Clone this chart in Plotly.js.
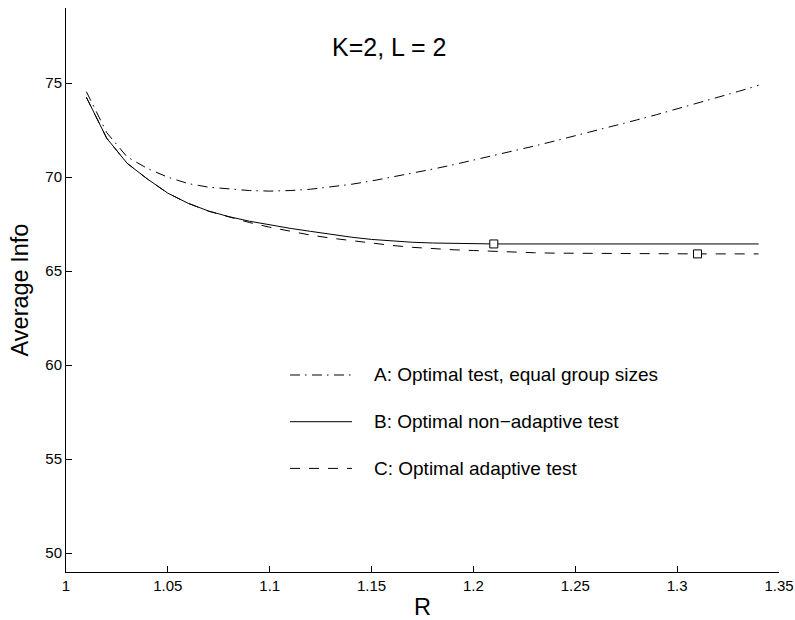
<!DOCTYPE html>
<html>
<head>
<meta charset="utf-8">
<script src="https://cdn.plot.ly/plotly-3.0.1.min.js"></script>
<style>
  html, body { margin: 0; padding: 0; background: #fff; }
  #chart { width: 795px; height: 620px; }
</style>
</head>
<body>
<div id="chart"></div>
<script>
// ---- data ----
const R = [1.01, 1.02, 1.03, 1.04, 1.05, 1.06, 1.07, 1.08, 1.09, 1.10,
           1.11, 1.12, 1.13, 1.14, 1.15, 1.16, 1.17, 1.18, 1.19, 1.20,
           1.21, 1.22, 1.23, 1.24, 1.25, 1.26, 1.27, 1.28, 1.29, 1.30,
           1.31, 1.32, 1.33, 1.34];

// A: Optimal test, equal group sizes
const infoA = [74.55, 72.37, 71.08, 70.46, 70.00, 69.66, 69.47, 69.37, 69.29, 69.26,
               69.29, 69.36, 69.48, 69.62, 69.80, 70.00, 70.21, 70.43, 70.66, 70.90,
               71.14, 71.40, 71.66, 71.93, 72.20, 72.47, 72.75, 73.04, 73.33, 73.63,
               73.93, 74.24, 74.56, 74.89];

// B: Optimal non-adaptive test
const infoB = [74.25, 72.07, 70.74, 69.90, 69.15, 68.61, 68.20, 67.90, 67.66, 67.45,
               67.28, 67.12, 66.95, 66.81, 66.69, 66.60, 66.54, 66.50, 66.47, 66.46,
               66.45, 66.45, 66.45, 66.45, 66.45, 66.45, 66.45, 66.45, 66.45, 66.45,
               66.45, 66.45, 66.45, 66.45];

// C: Optimal adaptive test
const infoC = [74.25, 72.07, 70.74, 69.90, 69.15, 68.61, 68.19, 67.87, 67.59, 67.34,
               67.11, 66.92, 66.76, 66.62, 66.49, 66.37, 66.27, 66.20, 66.14, 66.10,
               66.05, 66.01, 65.98, 65.96, 65.95, 65.94, 65.935, 65.93, 65.925, 65.92,
               65.92, 65.92, 65.92, 65.92];

// optimum markers (B and C)
const optR = [1.21, 1.31];
const optInfo = [66.45, 65.92];

const seriesNames = ["A: Optimal test, equal group sizes",
                     "B: Optimal non\u2212adaptive test",
                     "C: Optimal adaptive test"];

const xTickVals = [1, 1.05, 1.1, 1.15, 1.2, 1.25, 1.3, 1.35];
const xTickText = ["1", "1.05", "1.1", "1.15", "1.2", "1.25", "1.3", "1.35"];
const yTickVals = [50, 55, 60, 65, 70, 75];
const yTickText = ["50", "55", "60", "65", "70", "75"];

// ---- styles ----
const FONT = "Liberation Sans, Arial, Helvetica, sans-serif";
const dashA = "10px,5px,1.5px,5.5px";
const dashC = "10px,9px";

const traces = [
  { x: R, y: infoA, mode: "lines", name: seriesNames[0],
    line: { color: "#000", width: 1, dash: dashA } },
  { x: R, y: infoB, mode: "lines", name: seriesNames[1],
    line: { color: "#000", width: 1, dash: "solid" } },
  { x: R, y: infoC, mode: "lines", name: seriesNames[2],
    line: { color: "#000", width: 1, dash: dashC } },
  { x: optR, y: optInfo, mode: "markers", name: "optimum",
    marker: { symbol: "square", size: 8, color: "#fff",
              line: { color: "#000", width: 1 } } }
];

// legend drawn inside the axes (paper coordinates)
const legX0 = 0.3142, legX1 = 0.4011, legTextX = 0.4292;
const legY = [0.3493, 0.2665, 0.1837];
const legDash = [dashA, "solid", dashC];

const shapes = legY.map((yy, i) => ({
  type: "line", xref: "paper", yref: "paper",
  x0: legX0, x1: legX1, y0: yy, y1: yy,
  line: { color: "#000", width: 1, dash: legDash[i] }
}));

const annotations = legY.map((yy, i) => ({
  xref: "paper", yref: "paper", x: legTextX, y: yy,
  xanchor: "left", yanchor: "middle", showarrow: false,
  text: seriesNames[i], font: { family: FONT, size: 19, color: "#000" }
}));

annotations.push({
  xref: "paper", yref: "paper", x: 0.4537, y: 0.9317,
  xanchor: "center", yanchor: "middle", showarrow: false,
  text: "K=2, L = 2", font: { family: FONT, size: 25, color: "#000" }
});

const layout = {
  width: 795, height: 620,
  margin: { l: 66, r: 16, t: 8, b: 48, pad: 0 },
  paper_bgcolor: "#fff", plot_bgcolor: "#fff",
  showlegend: false,
  font: { family: FONT, color: "#000" },
  xaxis: {
    range: [1, 1.35], showgrid: false, zeroline: false,
    showline: true, linecolor: "#000", linewidth: 1, mirror: false,
    ticks: "inside", ticklen: 6, tickwidth: 1, tickcolor: "#000",
    tickmode: "array", tickvals: xTickVals, ticktext: xTickText,
    tickfont: { family: FONT, size: 15, color: "#000" },
    title: { text: "R", font: { family: FONT, size: 23.5, color: "#000" }, standoff: 8 }
  },
  yaxis: {
    range: [49, 79], showgrid: false, zeroline: false,
    showline: true, linecolor: "#000", linewidth: 1, mirror: false,
    ticks: "inside", ticklen: 6, tickwidth: 1, tickcolor: "#000",
    tickmode: "array", tickvals: yTickVals, ticktext: yTickText,
    tickfont: { family: FONT, size: 15, color: "#000" },
    title: { text: "Average Info", font: { family: FONT, size: 23.5, color: "#000" }, standoff: 10 }
  },
  shapes: shapes,
  annotations: annotations
};

Plotly.newPlot("chart", traces, layout, { displayModeBar: false, staticPlot: true });
</script>
</body>
</html>
